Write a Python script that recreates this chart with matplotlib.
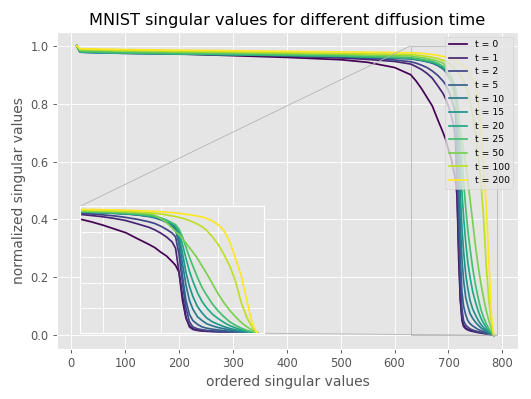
import matplotlib
matplotlib.use("Agg")
import matplotlib.pyplot as plt
import numpy as np
from mpl_toolkits.axes_grid1.inset_locator import mark_inset

plt.style.use("ggplot")

# ordered singular value index (shared by all series)
x_idx = [10, 16, 50, 100, 200, 300, 400, 500, 550, 600,
         630, 640, 650, 660, 670, 680, 690, 695, 700, 705, 710, 713, 716, 719,
         722, 725, 728, 732, 736, 740, 745, 750, 755, 760, 765, 770, 775, 780, 784]

times = [0, 1, 2, 5, 10, 15, 20, 25, 50, 100, 200]

sv_t0 = [1.000, 0.985, 0.982, 0.978, 0.972, 0.966, 0.960, 0.952, 0.943, 0.925,
         0.900, 0.878, 0.852, 0.822, 0.792, 0.745, 0.700, 0.675, 0.640, 0.610, 0.565, 0.535, 0.480, 0.260,
         0.120, 0.060, 0.035, 0.025, 0.020, 0.018, 0.015, 0.013, 0.011, 0.009, 0.007, 0.005, 0.004, 0.002, 0.0]
sv_t1 = [1.000, 0.983, 0.980, 0.977, 0.973, 0.969, 0.964, 0.958, 0.953, 0.946,
         0.937, 0.928, 0.918, 0.905, 0.888, 0.862, 0.835, 0.815, 0.790, 0.760, 0.720, 0.670, 0.480, 0.300,
         0.130, 0.050, 0.030, 0.022, 0.018, 0.015, 0.013, 0.011, 0.009, 0.008, 0.006, 0.005, 0.003, 0.002, 0.0]
sv_t2 = [1.000, 0.982, 0.980, 0.977, 0.974, 0.970, 0.966, 0.961, 0.957, 0.951,
         0.945, 0.940, 0.933, 0.925, 0.913, 0.898, 0.878, 0.865, 0.845, 0.820, 0.790, 0.760, 0.620, 0.400,
         0.200, 0.090, 0.050, 0.035, 0.028, 0.022, 0.018, 0.015, 0.012, 0.010, 0.008, 0.006, 0.004, 0.002, 0.0]
sv_t5 = [1.000, 0.978, 0.976, 0.974, 0.971, 0.969, 0.966, 0.963, 0.960, 0.957,
         0.955, 0.952, 0.949, 0.945, 0.940, 0.932, 0.920, 0.910, 0.895, 0.875, 0.845, 0.820, 0.700, 0.450,
         0.260, 0.150, 0.100, 0.070, 0.050, 0.040, 0.032, 0.026, 0.020, 0.016, 0.012, 0.009, 0.006, 0.003, 0.0]
sv_t10 = [1.000, 0.978, 0.976, 0.974, 0.972, 0.969, 0.967, 0.964, 0.961, 0.958,
          0.956, 0.953, 0.950, 0.946, 0.942, 0.934, 0.922, 0.913, 0.900, 0.880, 0.852, 0.830, 0.740, 0.550,
          0.380, 0.260, 0.190, 0.130, 0.100, 0.075, 0.058, 0.045, 0.035, 0.026, 0.019, 0.013, 0.008, 0.004, 0.0]
sv_t15 = [1.000, 0.979, 0.977, 0.975, 0.972, 0.970, 0.967, 0.964, 0.962, 0.959,
          0.957, 0.954, 0.951, 0.947, 0.943, 0.936, 0.925, 0.916, 0.904, 0.885, 0.858, 0.838, 0.770, 0.630,
          0.480, 0.370, 0.290, 0.210, 0.160, 0.120, 0.090, 0.070, 0.052, 0.038, 0.027, 0.018, 0.011, 0.005, 0.0]
sv_t20 = [1.000, 0.979, 0.977, 0.975, 0.973, 0.970, 0.968, 0.965, 0.962, 0.960,
          0.958, 0.955, 0.952, 0.948, 0.944, 0.937, 0.927, 0.919, 0.907, 0.890, 0.865, 0.848, 0.800, 0.700,
          0.590, 0.490, 0.410, 0.320, 0.250, 0.200, 0.150, 0.115, 0.085, 0.060, 0.042, 0.028, 0.016, 0.007, 0.0]
sv_t25 = [1.000, 0.980, 0.978, 0.976, 0.973, 0.971, 0.968, 0.965, 0.963, 0.961,
          0.959, 0.956, 0.953, 0.950, 0.946, 0.939, 0.929, 0.921, 0.910, 0.893, 0.870, 0.855, 0.820, 0.760,
          0.680, 0.600, 0.530, 0.440, 0.360, 0.300, 0.230, 0.175, 0.130, 0.090, 0.062, 0.040, 0.022, 0.009, 0.0]
sv_t50 = [1.000, 0.985, 0.983, 0.981, 0.978, 0.976, 0.973, 0.970, 0.968, 0.966,
          0.965, 0.962, 0.959, 0.956, 0.952, 0.947, 0.940, 0.930, 0.905, 0.875, 0.830, 0.800, 0.775, 0.745,
          0.710, 0.675, 0.640, 0.590, 0.530, 0.470, 0.390, 0.310, 0.240, 0.180, 0.130, 0.085, 0.050, 0.020, 0.0]
sv_t100 = [1.000, 0.988, 0.986, 0.984, 0.981, 0.979, 0.976, 0.974, 0.972, 0.971,
           0.970, 0.968, 0.966, 0.963, 0.960, 0.956, 0.950, 0.946, 0.940, 0.933, 0.925, 0.920, 0.913, 0.906,
           0.898, 0.888, 0.877, 0.860, 0.840, 0.810, 0.760, 0.700, 0.620, 0.530, 0.410, 0.240, 0.120, 0.040, 0.0]
sv_t200 = [1.000, 0.990, 0.989, 0.987, 0.985, 0.983, 0.981, 0.979, 0.978, 0.977,
           0.976, 0.975, 0.974, 0.972, 0.970, 0.967, 0.963, 0.961, 0.958, 0.955, 0.951, 0.948, 0.945, 0.942,
           0.938, 0.934, 0.930, 0.924, 0.916, 0.905, 0.885, 0.855, 0.810, 0.720, 0.590, 0.450, 0.250, 0.060, 0.0]

series = [sv_t0, sv_t1, sv_t2, sv_t5, sv_t10, sv_t15, sv_t20, sv_t25, sv_t50, sv_t100, sv_t200]
colors = plt.cm.viridis(np.linspace(0, 1, len(times)))

fig, ax = plt.subplots(figsize=(531 / 83, 399 / 83), dpi=83)
fig.subplots_adjust(left=0.107, right=0.9755, bottom=0.125, top=0.92)

axins = ax.inset_axes([0.05, 0.05, 0.40, 0.40])

for t, sv, c in zip(times, series, colors):
    ax.plot(x_idx, sv, color=c, label=f"t = {t}")
    axins.plot(x_idx, sv, color=c)

ax.set_xlim(-27, 829)
ax.set_ylim(-0.048, 1.048)
ax.set_title("MNIST singular values for different diffusion time", fontsize=14)
ax.set_xlabel("ordered singular values", fontsize=12)
ax.set_ylabel("normalized singular values", fontsize=12)
ax.legend(loc="upper right", fontsize=8)

axins.set_xlim(630, 790)
axins.set_ylim(0, 1.0)
axins.set_xticks([650, 700, 750])
axins.set_yticks([0.2, 0.4, 0.6, 0.8])
axins.set_xticklabels([])
axins.set_yticklabels([])
axins.tick_params(length=0)

mark_inset(ax, axins, loc1=2, loc2=4, fc="none", ec="0.7", lw=0.7)

fig.savefig("out.png", dpi=83)
